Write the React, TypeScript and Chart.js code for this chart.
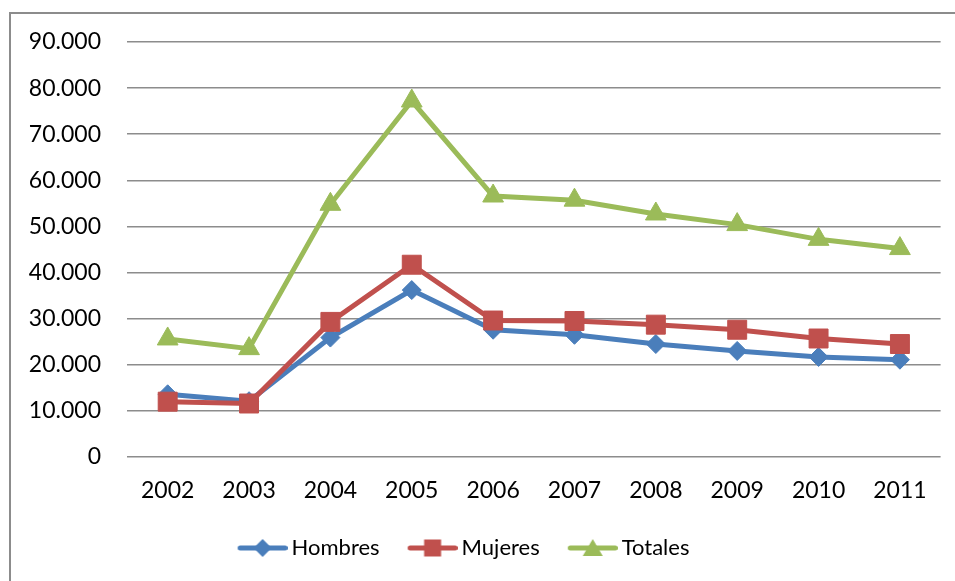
import React, { useEffect, useRef } from "react";
import { Chart, registerables } from "chart.js";

Chart.register(...registerables);

const years = ["2002", "2003", "2004", "2005", "2006", "2007", "2008", "2009", "2010", "2011"];
const hombres = [13600, 12100, 25900, 36200, 27600, 26500, 24500, 23000, 21700, 21100];
const mujeres = [12000, 11600, 29300, 41700, 29600, 29500, 28700, 27600, 25700, 24500];
const totales = [25600, 23500, 54800, 77200, 56600, 55700, 52700, 50400, 47200, 45200];
const seriesNames = ["Hombres", "Mujeres", "Totales"];
const yMin = 0;
const yMax = 90000;
const yStep = 10000;

const BLUE = "#4a7ebb";
const RED = "#c0504d";
const GREEN = "#9bbb59";
const FONT = "Lato";

function fmt(v: number): string {
  return String(Math.round(v)).replace(/\B(?=(\d{3})+(?!\d))/g, ".");
}

function legendImage(color: string, style: string): HTMLCanvasElement {
  const c = document.createElement("canvas");
  c.width = 76;
  c.height = 24;
  const ctx = c.getContext("2d")!;
  const cy = 12;
  ctx.strokeStyle = color;
  ctx.fillStyle = color;
  ctx.lineWidth = 5;
  ctx.lineCap = "round";
  ctx.beginPath();
  ctx.moveTo(28.5, cy);
  ctx.lineTo(73.5, cy);
  ctx.stroke();
  const cx = 51;
  ctx.beginPath();
  if (style === "diamond") {
    ctx.moveTo(cx, cy - 9);
    ctx.lineTo(cx + 9, cy);
    ctx.lineTo(cx, cy + 9);
    ctx.lineTo(cx - 9, cy);
  } else if (style === "square") {
    ctx.rect(cx - 8.5, cy - 8.5, 17, 17);
  } else {
    ctx.moveTo(cx, cy - 9);
    ctx.lineTo(cx + 10, cy + 8);
    ctx.lineTo(cx - 10, cy + 8);
  }
  ctx.closePath();
  ctx.fill();
  return c;
}

export default function App() {
  const ref = useRef<HTMLCanvasElement | null>(null);

  useEffect(() => {
    if (!ref.current) return;
    const imgs = [
      legendImage(BLUE, "diamond"),
      legendImage(RED, "square"),
      legendImage(GREEN, "triangle"),
    ];
    const colors = [BLUE, RED, GREEN];
    const shiftLegend = {
      id: "shiftLegend",
      afterLayout(chart: any) {
        const lg = chart.legend;
        if (lg) {
          lg.left -= 17;
          lg.right -= 17;
        }
      },
    };
    const chart = new Chart(ref.current, {
      type: "line",
      data: {
        labels: years,
        datasets: [
          {
            label: seriesNames[0],
            data: hombres,
            borderColor: BLUE,
            backgroundColor: BLUE,
            borderWidth: 5,
            pointStyle: "rectRot",
            pointRadius: 9.5,
            pointBorderWidth: 1,
            pointBackgroundColor: BLUE,
            pointBorderColor: BLUE,
            tension: 0,
            order: 3,
          },
          {
            label: seriesNames[1],
            data: mujeres,
            borderColor: RED,
            backgroundColor: RED,
            borderWidth: 5,
            pointStyle: "rect",
            pointRadius: 13.4,
            pointBorderWidth: 1,
            pointBackgroundColor: RED,
            pointBorderColor: RED,
            tension: 0,
            order: 2,
          },
          {
            label: seriesNames[2],
            data: totales,
            borderColor: GREEN,
            backgroundColor: GREEN,
            borderWidth: 5,
            pointStyle: "triangle",
            pointRadius: 12,
            pointBorderWidth: 1,
            pointBackgroundColor: GREEN,
            pointBorderColor: GREEN,
            tension: 0,
            order: 1,
          },
        ],
      },
      options: {
        responsive: false,
        animation: false,
        layout: { padding: { left: 0, right: 13, top: 42, bottom: 12 } },
        plugins: {
          tooltip: { enabled: false },
          legend: {
            position: "bottom",
            align: "center",
            labels: {
              usePointStyle: true,
              pointStyleWidth: 62,
              padding: 9,
              color: "#000",
              font: { family: FONT, size: 22 },
              generateLabels: (ch: any) =>
                ch.data.datasets.map((d: any, i: number) => ({
                  text: d.label,
                  pointStyle: imgs[i],
                  fillStyle: colors[i],
                  strokeStyle: colors[i],
                  lineWidth: 0,
                  hidden: false,
                  datasetIndex: i,
                  fontColor: "#000",
                })),
            },
          },
        },
        scales: {
          x: {
            offset: true,
            grid: { display: false, drawTicks: false, offset: true },
            border: { display: false },
            ticks: {
              color: "#000",
              padding: 20,
              font: { family: FONT, size: 23 },
              maxRotation: 0,
            },
            afterFit: (s: any) => {
              s.height = 71;
            },
          },
          y: {
            min: yMin,
            max: yMax,
            grid: { color: "#8c8c8c", lineWidth: 1.5, drawTicks: false },
            border: { display: false },
            ticks: {
              stepSize: yStep,
              color: "#000",
              padding: 26,
              font: { family: FONT, size: 23 },
              callback: (v: any) => fmt(Number(v)),
            },
            afterFit: (s: any) => {
              s.width = 127;
            },
          },
        },
      },
      plugins: [shiftLegend],
    });
    return () => chart.destroy();
  }, []);

  return (
    <div
      style={{
        position: "fixed",
        left: 0,
        top: 0,
        width: 955,
        height: 581,
        overflow: "hidden",
        background: "#fff",
      }}
    >
      <canvas
        ref={ref}
        width={955}
        height={581}
        style={{ position: "absolute", left: 0, top: 0, width: 955, height: 581 }}
      />
      <div
        style={{
          position: "absolute",
          left: 9,
          top: 12,
          width: 960,
          height: 600,
          borderTop: "2px solid #8c8c8c",
          borderLeft: "2px solid #8c8c8c",
          pointerEvents: "none",
        }}
      />
    </div>
  );
}
